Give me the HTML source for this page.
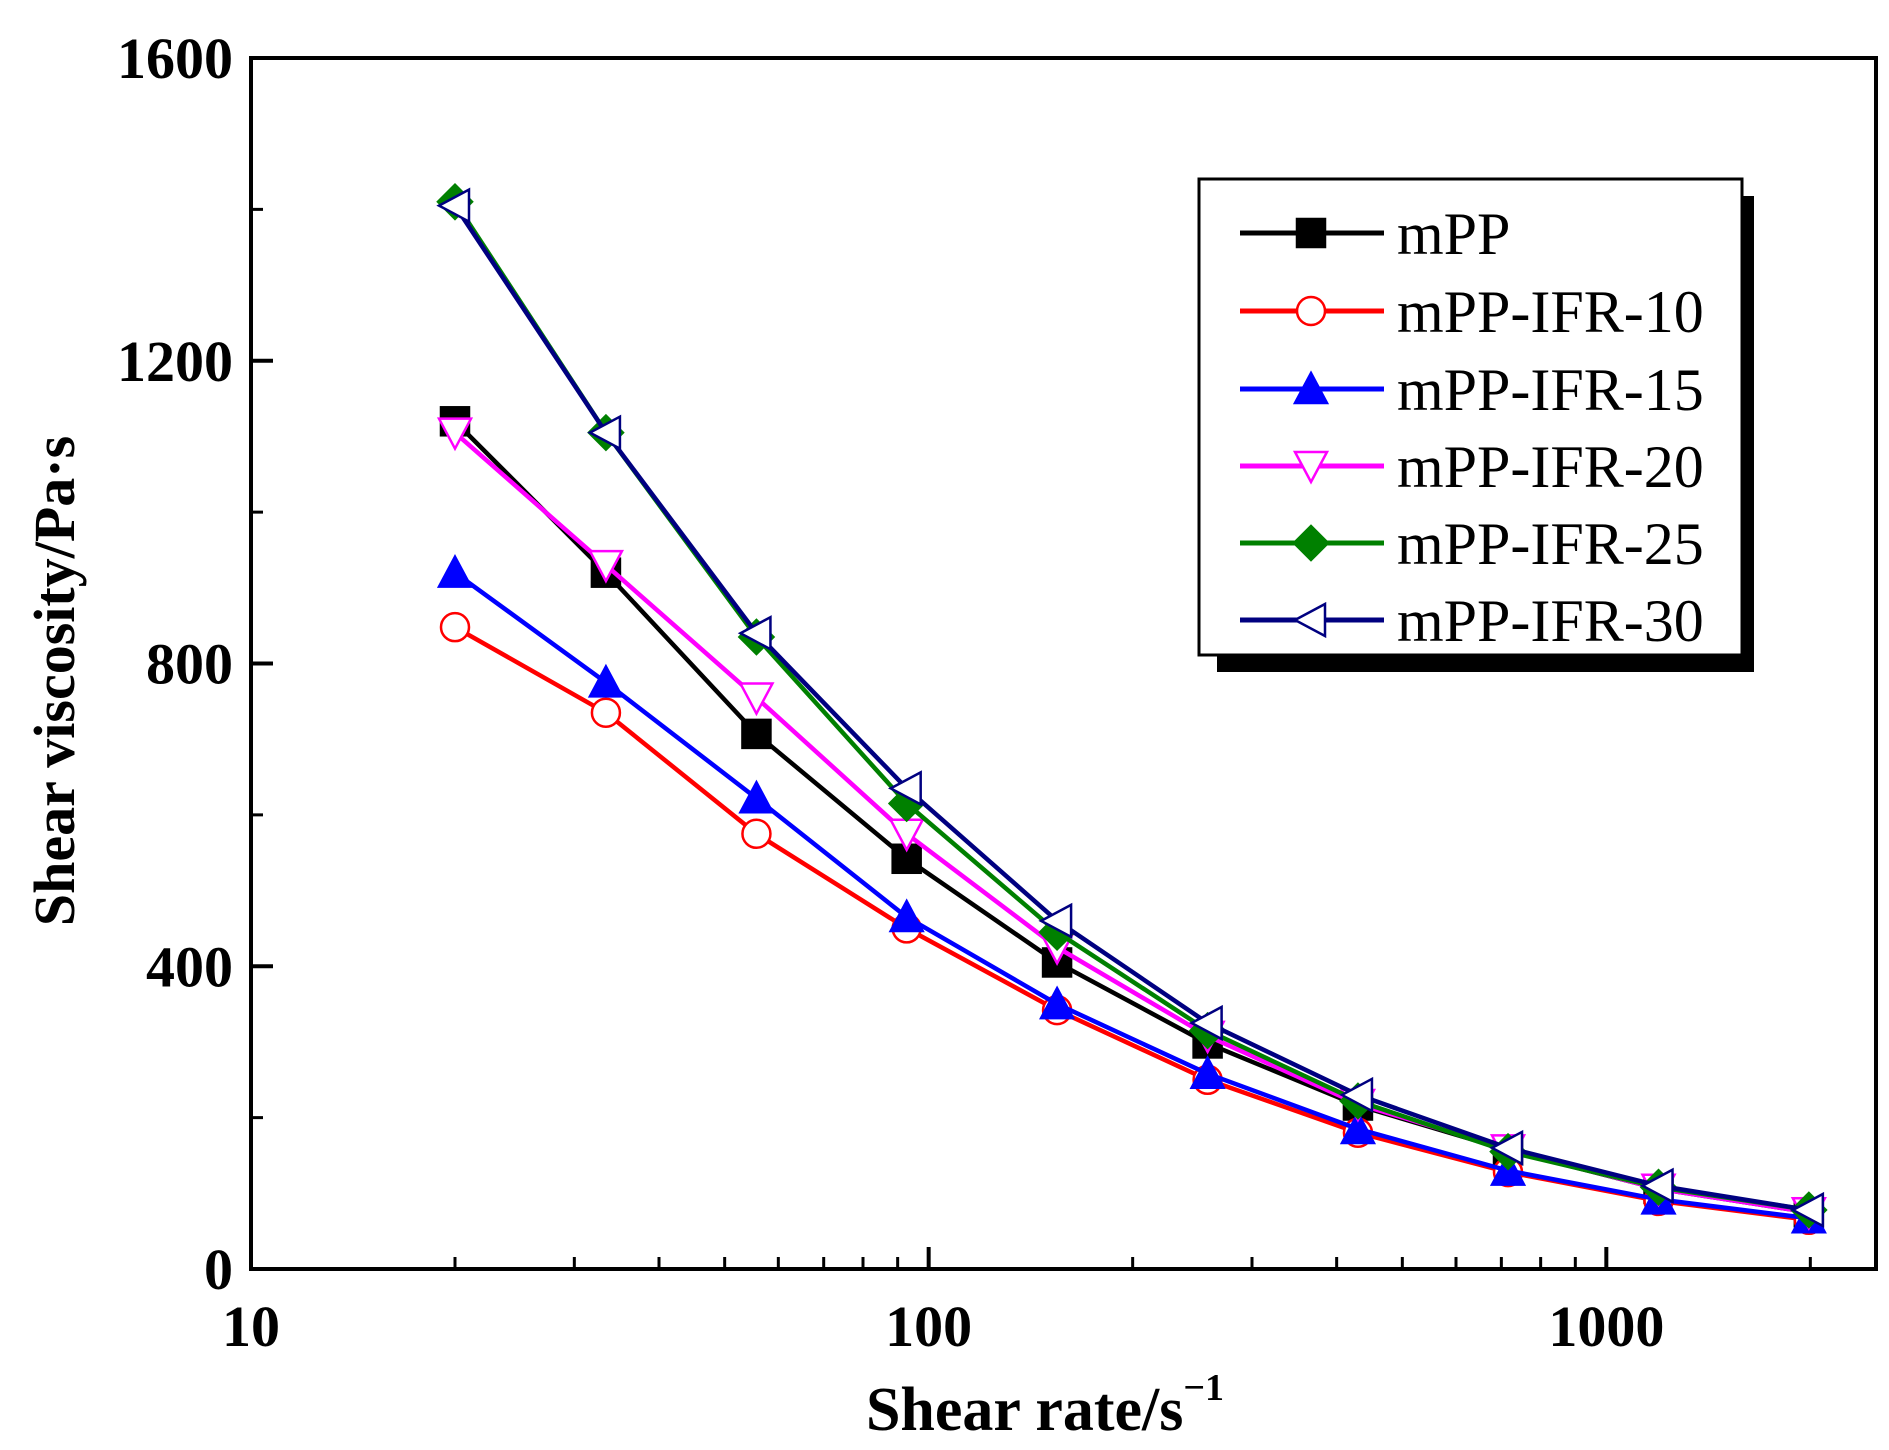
<!DOCTYPE html>
<html><head><meta charset="utf-8"><style>
html,body{margin:0;padding:0;background:#fff;}
svg{display:block;}
text{font-family:"Liberation Serif",serif;}
</style></head><body>
<svg id="chart" width="1889" height="1450" viewBox="0 0 1889 1450" xmlns="http://www.w3.org/2000/svg">
<g id="plot"></g>
</svg>
<script>
const shearRates = [20, 33.4, 55.7, 92.8, 154.7, 258, 430, 716, 1194, 1990];
const mPP = [1120, 920, 707, 542, 405, 298, 216, 157, 106, 75];
const ifr10 = [848, 735, 575, 450, 342, 250, 180, 128, 90, 65];
const ifr15 = [920, 775, 622, 465, 350, 258, 185, 130, 92, 67];
const ifr20 = [1105, 930, 755, 575, 425, 308, 218, 158, 106, 75];
const ifr25 = [1410, 1105, 835, 615, 445, 315, 222, 155, 108, 78];
const ifr30 = [1405, 1105, 840, 635, 460, 325, 230, 160, 110, 78];
const seriesNames = ["mPP", "mPP-IFR-10", "mPP-IFR-15", "mPP-IFR-20", "mPP-IFR-25", "mPP-IFR-30"];
const yTicks = [0, 400, 800, 1200, 1600];
const yMinorTicks = [200, 600, 1000, 1400];
const xTicks = [10, 100, 1000];
const xTickLabels = ["10", "100", "1000"];

const NS = "http://www.w3.org/2000/svg";
const L = 251, R = 1876, T = 58, B = 1269;
const X_MIN = 10, X_MAX = 2500, Y_MIN = 0, Y_MAX = 1600;
function xs(v){ return L + (Math.log10(v) - Math.log10(X_MIN)) / (Math.log10(X_MAX) - Math.log10(X_MIN)) * (R - L); }
function ys(v){ return B - (v - Y_MIN) / (Y_MAX - Y_MIN) * (B - T); }
const g = document.getElementById('plot');
function mk(tag, attrs, parent){
  const e = document.createElementNS(NS, tag);
  for (const k in attrs) e.setAttribute(k, attrs[k]);
  (parent || g).appendChild(e);
  return e;
}

const frame = mk('rect', {x:L, y:T, width:R-L, height:B-T, fill:'none', stroke:'#000', 'stroke-width':4});



yTicks.forEach((v, i) => {
  const t = mk('line', {x1:L, x2:L+22, y1:ys(v), y2:ys(v), stroke:'#000', 'stroke-width':4});
  
  
  const lb = mk('text', {x:L-18, y:ys(v)+20, 'text-anchor':'end', 'font-size':58, 'font-weight':'bold'});
  lb.textContent = String(v);
  
  
});
yMinorTicks.forEach(v => {
  const t = mk('line', {x1:L, x2:L+12, y1:ys(v), y2:ys(v), stroke:'#000', 'stroke-width':3});
  
  
});
xTicks.forEach((v, i) => {
  const t = mk('line', {x1:xs(v), x2:xs(v), y1:B, y2:B-22, stroke:'#000', 'stroke-width':4});
  
  
  const lb = mk('text', {x:xs(v), y:B+77, 'text-anchor':'middle', 'font-size':58, 'font-weight':'bold'});
  lb.textContent = xTickLabels[i];
  
  
});
for (let d = 10; d < X_MAX; d *= 10) {
  for (let m = 2; m <= 9; m++) {
    const v = d * m;
    if (v >= X_MAX) break;
    const t = mk('line', {x1:xs(v), x2:xs(v), y1:B, y2:B-12, stroke:'#000', 'stroke-width':3});
    
    
  }
}

const yt = mk('text', {x:0, y:0, transform:'translate(74,681) rotate(-90)', 'text-anchor':'middle', 'font-size':58, 'font-weight':'bold'});
yt.textContent = 'Shear viscosity/Pa·s';


const xt = mk('text', {x:1045, y:1430, 'text-anchor':'middle', 'font-size':62, 'font-weight':'bold'});
xt.innerHTML = 'Shear rate/s<tspan font-size="38" dy="-30">−1</tspan>';



const series = [
  {vals:mPP, color:'#000000', marker:'square', fill:'#000000'},
  {vals:ifr10, color:'#ff0000', marker:'circle', fill:'#ffffff'},
  {vals:ifr15, color:'#0000ff', marker:'triup', fill:'#0000ff'},
  {vals:ifr20, color:'#ff00ff', marker:'tridown', fill:'#ffffff'},
  {vals:ifr25, color:'#008000', marker:'diamond', fill:'#008000'},
  {vals:ifr30, color:'#000080', marker:'trileft', fill:'#ffffff'}
];
function marker(type, x, y, color, fill, parent){
  const s = 14; let e;
  const st = {stroke:color, 'stroke-width':2.5, fill:fill};
  if (type === 'square') e = mk('rect', Object.assign({x:x-s, y:y-s, width:2*s, height:2*s}, st), parent);
  else if (type === 'circle') e = mk('circle', Object.assign({cx:x, cy:y, r:s}, st), parent);
  else if (type === 'triup') e = mk('polygon', Object.assign({points:`${x},${y-s-2} ${x+s+2},${y+s} ${x-s-2},${y+s}`}, st), parent);
  else if (type === 'tridown') e = mk('polygon', Object.assign({points:`${x-s-2},${y-s} ${x+s+2},${y-s} ${x},${y+s+2}`}, st), parent);
  else if (type === 'diamond') e = mk('polygon', Object.assign({points:`${x},${y-s-3} ${x+s+3},${y} ${x},${y+s+3} ${x-s-3},${y}`}, st), parent);
  else e = mk('polygon', Object.assign({points:`${x-s-2},${y} ${x+s},${y-s-2} ${x+s},${y+s+2}`}, st), parent);
  return e;
}
series.forEach((s, si) => {
  const sg = mk('g', {});
  
  
  const pts = s.vals.map((v, i) => xs(shearRates[i]) + ',' + ys(v)).join(' ');
  const pl = mk('polyline', {points:pts, fill:'none', stroke:s.color, 'stroke-width':4.5}, sg);
  
  
  s.vals.forEach((v, i) => {
    const m = marker(s.marker, xs(shearRates[i]), ys(v), s.color, s.fill, sg);
    
    
  });
});

const lg = mk('g', {});


const sh = mk('rect', {x:1217, y:196, width:537, height:476, fill:'#000'}, lg);


const box = mk('rect', {x:1199, y:179, width:543, height:476, fill:'#fff', stroke:'#000', 'stroke-width':3}, lg);


const rowY = [233, 311, 389, 466, 543, 620];
series.forEach((s, i) => {
  const y = rowY[i];
  const eg = mk('g', {}, lg);
  
  
  mk('line', {x1:1240, x2:1384, y1:y, y2:y, stroke:s.color, 'stroke-width':5}, eg);
  marker(s.marker, 1311, y, s.color, s.fill, eg);
  const tx = mk('text', {x:1397, y:y+21, 'font-size':60, fill:'#000'}, eg);
  tx.textContent = seriesNames[i];
});
</script>
</body></html>
